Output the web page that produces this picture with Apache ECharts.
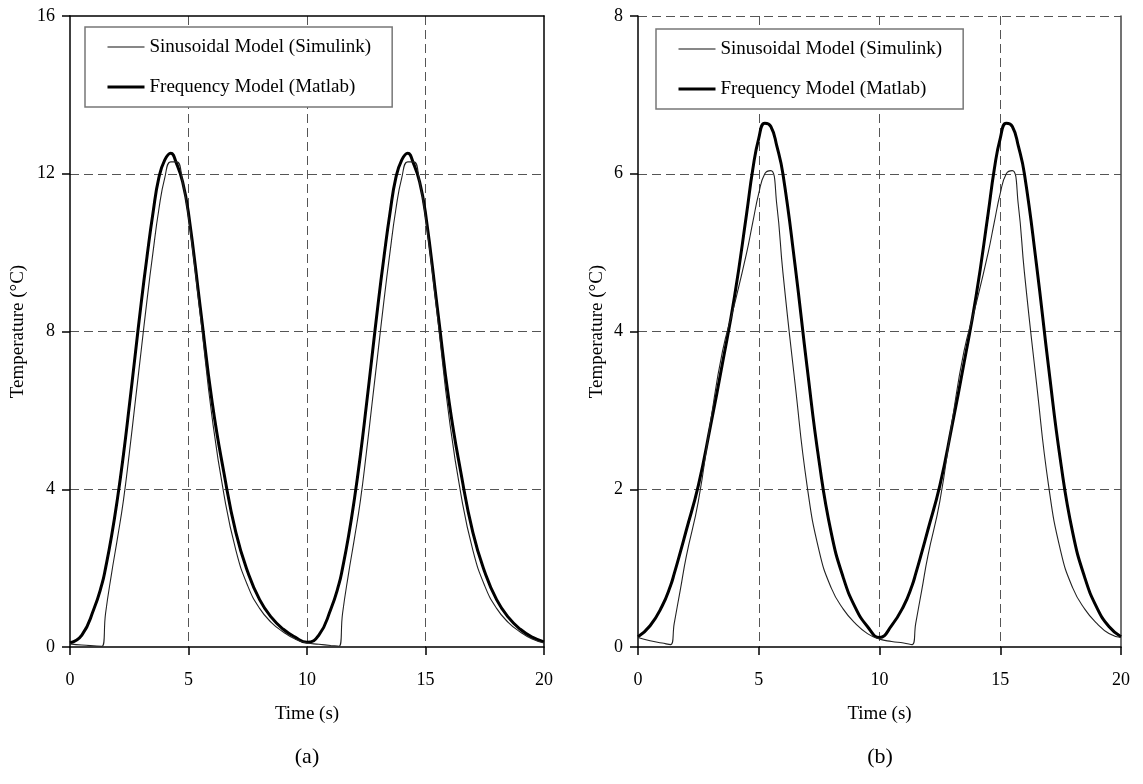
<!DOCTYPE html>
<html>
<head>
<meta charset="utf-8">
<script src="https://cdn.jsdelivr.net/npm/echarts@6/dist/echarts.min.js"></script>
<style>html,body{margin:0;padding:0;background:#fff;}#c{width:1143px;height:784px;}</style>
</head>
<body>
<div id="c"></div>
<script>
// ---- Data ----
var seriesNames = ['Sinusoidal Model (Simulink)', 'Frequency Model (Matlab)'];
var panelLabels = ['(a)', '(b)'];
var xTicks = [0, 5, 10, 15, 20];
var yTicksA = [0, 4, 8, 12, 16];
var yTicksB = [0, 2, 4, 6, 8];

// Panel (a)
var timeA = [0,0.5,1,1.35,1.5,1.75,2,2.25,2.5,2.75,3,3.25,3.5,3.75,4,4.25,4.5,4.75,5,5.5,6,6.5,7,7.5,8,8.5,9,9.5,
             10,10.5,11,11.35,11.5,11.75,12,12.25,12.5,12.75,13,13.25,13.5,13.75,14,14.25,14.5,14.75,15,15.5,16,16.5,17,17.5,18,18.5,19,19.5,20];
var sinusoidalA = [0.08,0.05,0.03,0.02,0.85,1.85,2.75,3.7,4.9,6.2,7.5,8.8,10.0,11.1,11.9,12.3,12.3,11.8,10.9,8.4,5.8,3.85,2.45,1.55,0.98,0.62,0.38,0.2,
                   0.1,0.07,0.04,0.02,0.85,1.85,2.75,3.7,4.9,6.2,7.5,8.8,10.0,11.1,11.9,12.3,12.3,11.8,10.9,8.4,5.8,3.85,2.45,1.55,0.98,0.62,0.38,0.2,0.1];
var frequencyA = [0.10,0.30,0.95,1.6,2.0,2.8,3.75,4.85,6.1,7.4,8.7,9.9,11.0,11.9,12.35,12.52,12.25,11.8,11.0,8.6,6.2,4.4,2.9,1.9,1.2,0.75,0.45,0.25,
                  0.12,0.30,0.95,1.6,2.0,2.8,3.75,4.85,6.1,7.4,8.7,9.9,11.0,11.9,12.35,12.52,12.25,11.8,11.0,8.6,6.2,4.4,2.9,1.9,1.2,0.75,0.45,0.25,0.13];

// Panel (b)
var timeB = [0,0.5,1,1.35,1.5,1.75,2,2.5,3,3.5,4,4.5,4.75,5,5.25,5.5,5.75,6,6.5,7,7.5,8,8.5,9,9.5,
             10,10.5,11,11.35,11.5,11.75,12,12.5,13,13.5,14,14.5,14.75,15,15.25,15.5,15.75,16,16.5,17,17.5,18,18.5,19,19.5,20];
var sinusoidalB = [0.12,0.08,0.05,0.03,0.3,0.72,1.15,1.85,2.85,3.75,4.35,5.0,5.38,5.75,6.0,6.04,5.6,4.75,3.35,2.05,1.22,0.75,0.48,0.3,0.17,
                   0.1,0.07,0.05,0.03,0.3,0.72,1.15,1.85,2.85,3.75,4.35,5.0,5.38,5.75,6.0,6.04,5.6,4.75,3.35,2.05,1.22,0.75,0.48,0.3,0.17,0.12];
var frequencyB = [0.13,0.27,0.52,0.78,0.93,1.2,1.48,2.05,2.8,3.6,4.45,5.5,6.05,6.45,6.64,6.6,6.35,6.0,4.85,3.55,2.35,1.45,0.88,0.5,0.26,
                  0.12,0.27,0.52,0.78,0.93,1.2,1.48,2.05,2.8,3.6,4.45,5.5,6.05,6.45,6.64,6.6,6.35,6.0,4.85,3.55,2.35,1.45,0.88,0.5,0.26,0.13];

// ---- Chart ----
var FONT = '"Liberation Serif", "Times New Roman", serif';
function pairs(t, v) { return t.map(function (x, i) { return [x, v[i]]; }); }

function bottomX(gi) {
  return {
    type: 'value', gridIndex: gi, position: 'bottom',
    min: xTicks[0], max: xTicks[xTicks.length - 1], interval: xTicks[1] - xTicks[0],
    axisLine: { show: true, onZero: false, lineStyle: { color: '#000', width: 1.5 } },
    axisTick: { show: true, inside: false, length: 8, lineStyle: { color: '#000', width: 1.5 } },
    axisLabel: { margin: 24, fontFamily: FONT, fontSize: 18, color: '#000' },
    splitLine: { show: true, showMinLine: false, showMaxLine: false, lineStyle: { type: [9, 5], color: '#555', width: 1 } },
    name: 'Time (s)', nameLocation: 'middle', nameGap: 58,
    nameTextStyle: { fontFamily: FONT, fontSize: 19, color: '#000' }
  };
}
function frameX(gi, show) {
  return {
    type: 'value', gridIndex: gi, position: 'top', min: 0, max: 20,
    axisLine: { show: show, onZero: false, lineStyle: { color: '#000', width: 1.5 } },
    axisTick: { show: false }, axisLabel: { show: false }, splitLine: { show: false }
  };
}
function leftY(gi, ticks, showMax, gap) {
  return {
    type: 'value', gridIndex: gi, position: 'left',
    min: ticks[0], max: ticks[ticks.length - 1], interval: ticks[1] - ticks[0],
    axisLine: { show: true, onZero: false, lineStyle: { color: '#000', width: 1.5 } },
    axisTick: { show: true, inside: false, length: 8, lineStyle: { color: '#000', width: 1.5 } },
    axisLabel: { margin: 15, fontFamily: FONT, fontSize: 18, color: '#000' },
    splitLine: { show: true, showMinLine: false, showMaxLine: showMax, lineStyle: { type: [9, 5], color: '#555', width: 1 } },
    name: 'Temperature (\u00B0C)', nameLocation: 'middle', nameGap: gap, nameRotate: 90,
    nameTextStyle: { fontFamily: FONT, fontSize: 19, color: '#000' }
  };
}
function frameY(gi, ticks, color) {
  return {
    type: 'value', gridIndex: gi, position: 'right', min: ticks[0], max: ticks[ticks.length - 1],
    axisLine: { show: true, onZero: false, lineStyle: { color: color, width: 1.5 } },
    axisTick: { show: false }, axisLabel: { show: false }, splitLine: { show: false }
  };
}
function legendAt(left, top) {
  return {
    left: left, top: top, orient: 'vertical', selectedMode: false,
    padding: [10, 21, 10, 21], itemGap: 20, itemWidth: 37, itemHeight: 14,
    borderColor: '#777', borderWidth: 1.5, backgroundColor: '#fff',
    itemStyle: { opacity: 0, borderWidth: 0 },
    textStyle: { fontFamily: FONT, fontSize: 19, color: '#000', lineHeight: 20 },
    data: [
      { name: seriesNames[0], lineStyle: { width: 1.2, color: '#111' } },
      { name: seriesNames[1], lineStyle: { width: 3, color: '#000' } }
    ]
  };
}
function line(name, data, xi, yi, thick) {
  return {
    name: name, type: 'line', xAxisIndex: xi, yAxisIndex: yi, data: data,
    symbol: 'none', smooth: 0.5, silent: true,
    lineStyle: { color: thick ? '#000' : '#222', width: thick ? 3 : 1.1 },
    itemStyle: { color: thick ? '#000' : '#222' },
    z: thick ? 3 : 4
  };
}

var chart = echarts.init(document.getElementById('c'), null, { renderer: 'canvas' });
chart.setOption({
  animation: false,
  backgroundColor: '#fff',
  grid: [
    { left: 70, top: 16, width: 474, height: 631 },
    { left: 638, top: 16, width: 483, height: 631 }
  ],
  xAxis: [bottomX(0), frameX(0, true), bottomX(1)],
  yAxis: [leftY(0, yTicksA, false, 42), frameY(0, yTicksA, '#000'), leftY(1, yTicksB, true, 31), frameY(1, yTicksB, '#444')],
  legend: [legendAt(85, 27), legendAt(656, 29)],
  series: [
    line(seriesNames[1], pairs(timeA, frequencyA), 0, 0, true),
    line(seriesNames[0], pairs(timeA, sinusoidalA), 0, 0, false),
    line(seriesNames[1], pairs(timeB, frequencyB), 2, 2, true),
    line(seriesNames[0], pairs(timeB, sinusoidalB), 2, 2, false)
  ],
  graphic: [
    { type: 'text', x: 307, y: 757, style: { text: panelLabels[0], font: '22px ' + FONT, fill: '#000', align: 'center', verticalAlign: 'middle', textAlign: 'center', textVerticalAlign: 'middle' } },
    { type: 'text', x: 880, y: 757, style: { text: panelLabels[1], font: '22px ' + FONT, fill: '#000', align: 'center', verticalAlign: 'middle', textAlign: 'center', textVerticalAlign: 'middle' } }
  ]
});
</script>
</body>
</html>
